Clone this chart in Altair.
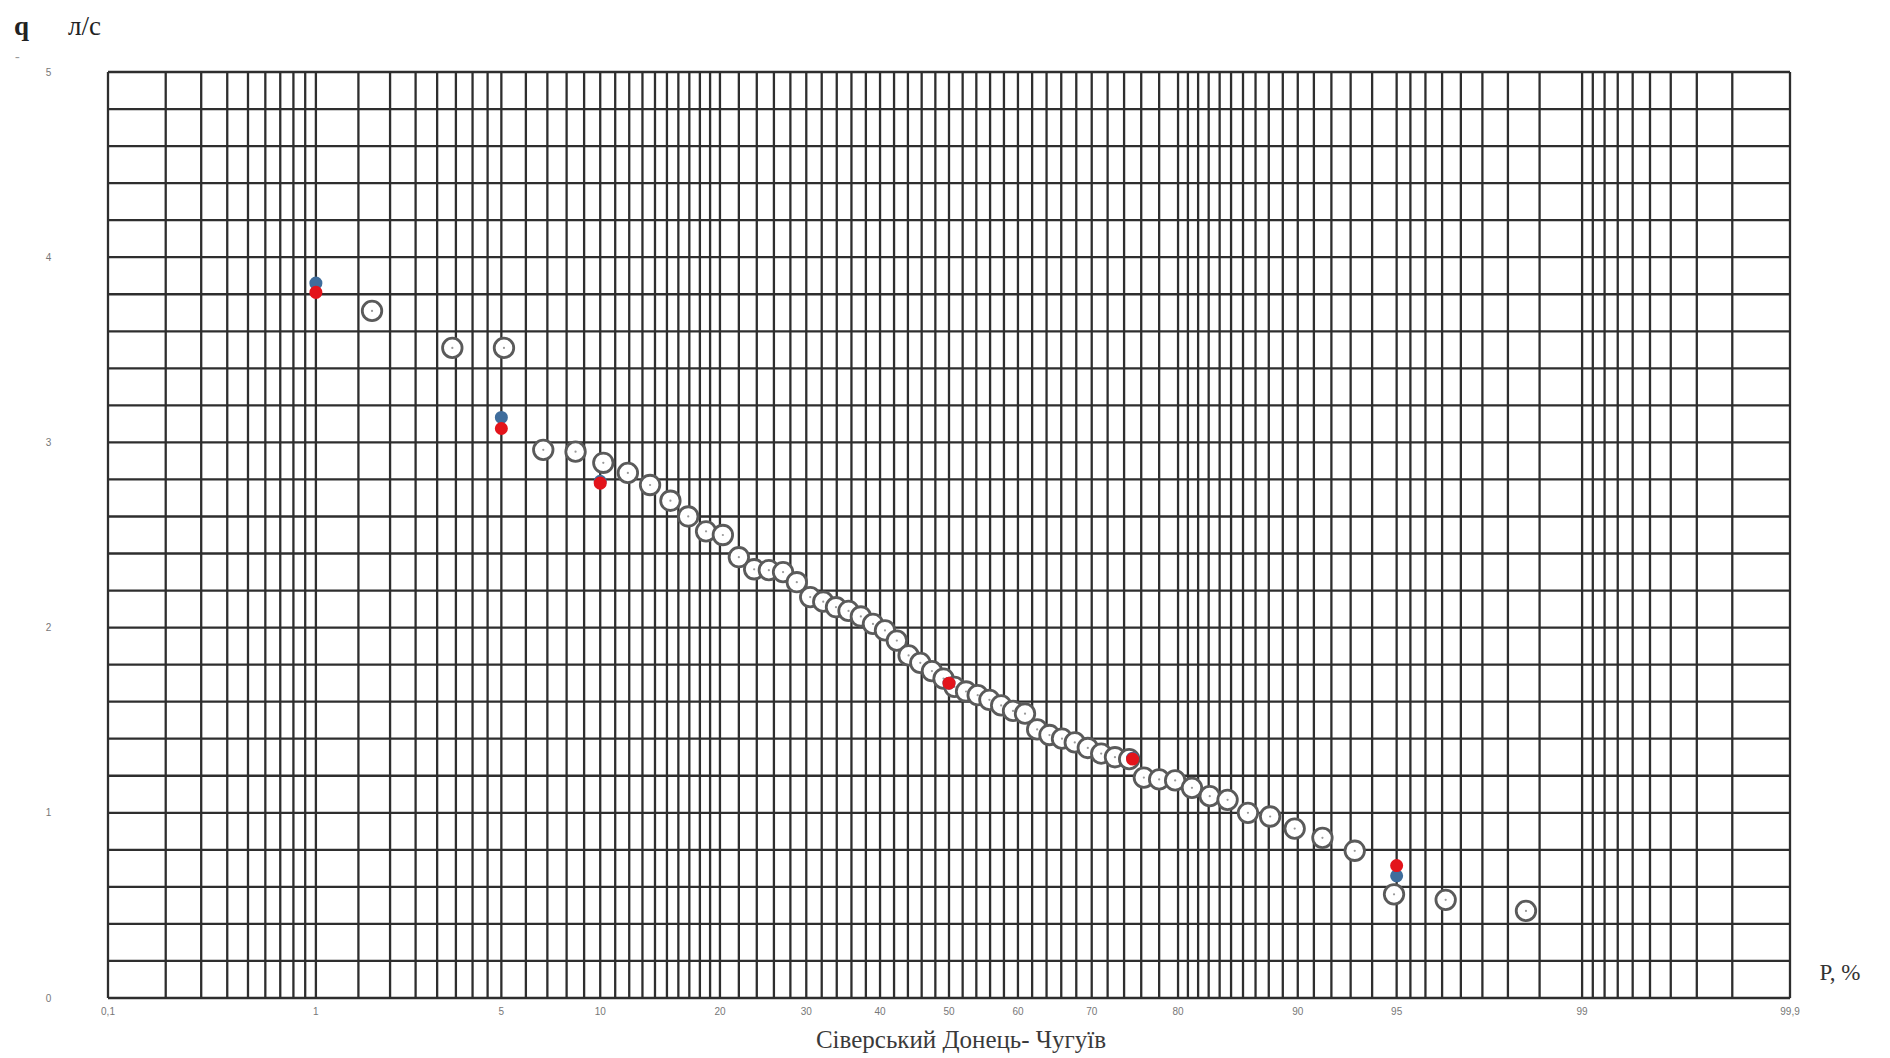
import altair as alt
import pandas as pd
from statistics import NormalDist

_nd = NormalDist()


def probit(p):
    return _nd.inv_cdf(p / 100.0)


# ---- empirical exceedance points (P, %) and discharges (q, l/s) ----
P_emp = [1.7, 3.4, 5.1, 6.8, 8.5, 10.2, 11.9, 13.6, 15.3, 16.9, 18.6, 20.3,
         22.0, 23.7, 25.4, 27.1, 28.8, 30.5, 32.2, 33.9, 35.6, 37.3, 39.0,
         40.7, 42.4, 44.1, 45.8, 47.5, 49.2, 50.8, 52.5, 54.2, 55.9, 57.6,
         59.3, 61.0, 62.7, 64.4, 66.1, 67.8, 69.5, 71.2, 72.9, 74.6, 76.3,
         78.0, 79.7, 81.4, 83.1, 84.7, 86.4, 88.1, 89.8, 91.5, 93.2, 94.9,
         96.6, 98.3]
q_emp = [3.71, 3.51, 3.51, 2.96, 2.95, 2.89, 2.835, 2.77, 2.685, 2.60, 2.52,
         2.50, 2.38, 2.315, 2.31, 2.30, 2.245, 2.165, 2.14, 2.11, 2.09, 2.06,
         2.02, 1.985, 1.93, 1.85, 1.81, 1.765, 1.725, 1.68, 1.655, 1.635,
         1.61, 1.58, 1.55, 1.535, 1.45, 1.42, 1.40, 1.38, 1.35, 1.32, 1.30,
         1.29, 1.19, 1.18, 1.175, 1.135, 1.09, 1.07, 1.00, 0.98, 0.915,
         0.865, 0.795, 0.56, 0.53, 0.47]

# ---- theoretical curves (points at selected probabilities) ----
P_theor = [1, 5, 10, 50, 75, 95]
q_blue = [3.86, 3.135, 2.79, 1.70, 1.295, 0.66]
q_red = [3.81, 3.075, 2.78, 1.70, 1.29, 0.715]

# ---- probability-paper grid and tick labels ----
grid_P = ([round(0.1 * i, 1) for i in range(1, 11)]
          + [round(1 + 0.5 * i, 1) for i in range(1, 9)]
          + list(range(6, 21))
          + list(range(22, 81, 2))
          + list(range(81, 96))
          + [round(95 + 0.5 * i, 1) for i in range(1, 9)]
          + [round(99 + 0.1 * i, 1) for i in range(1, 10)])
tick_P = [0.1, 1, 5, 10, 20, 30, 40, 50, 60, 70, 80, 90, 95, 99, 99.9]
tick_labels = ["0,1", "1", "5", "10", "20", "30", "40", "50", "60", "70",
               "80", "90", "95", "99", "99,9"]
y_grid = [round(0.2 * i, 1) for i in range(26)]
y_ticks = [0, 1, 2, 3, 4, 5]

W, H = 1682, 926
GRID = "#2e2e2e"

emp = pd.DataFrame({"P": P_emp, "q": q_emp, "z": [probit(p) for p in P_emp]})
theo = pd.DataFrame({"P": P_theor, "z": [probit(p) for p in P_theor],
                     "blue": q_blue, "red": q_red})
vgrid_df = pd.DataFrame({"z": [probit(p) for p in grid_P]})
hgrid_df = pd.DataFrame({"q": y_grid})
ticks = pd.DataFrame({"z": [probit(p) for p in tick_P], "label": tick_labels})

xscale = alt.Scale(domain=[probit(0.1), probit(99.9)], nice=False, zero=False)
yscale = alt.Scale(domain=[0, 5], nice=False, zero=True)
yaxis = alt.Axis(
    values=y_ticks, grid=False, domain=False, ticks=False, title=None,
    labelOverlap=False, format="d",
    labelAlign="center", labelPadding=60, labelFontSize=10,
    labelColor="#777", labelFont="Liberation Sans")


def X(f):
    return alt.X(f, type="quantitative", scale=xscale, axis=None)


def Y(f):
    return alt.Y(f, type="quantitative", scale=yscale, axis=yaxis, title=None)


hgrid = alt.Chart(hgrid_df).mark_rule(color=GRID, strokeWidth=2.3).encode(
    y=Y("q"))

vgrid = alt.Chart(vgrid_df).mark_rule(color=GRID, strokeWidth=2.3).encode(
    x=X("z"))

tick_text = alt.Chart(ticks).mark_text(
    fontSize=10, color="#777", font="Liberation Sans", baseline="middle"
).encode(x=X("z"), y=alt.value(H + 14), text="label:N")

circles = alt.Chart(emp).mark_circle(
    fill="white", stroke="#5a5a5a", strokeWidth=2.8, size=380, opacity=1
).encode(x=X("z"), y=Y("q"))

centers = alt.Chart(emp).mark_circle(color="#999", size=5, opacity=1).encode(
    x=X("z"), y=Y("q"))

blue = alt.Chart(theo).mark_circle(color="#3f6d9c", size=170, opacity=1).encode(
    x=X("z"), y=Y("blue"))
red = alt.Chart(theo).mark_circle(color="#e3141b", size=170, opacity=1).encode(
    x=X("z"), y=Y("red"))


def label(text, x, y, size, align="left", color="#222", weight="normal",
          font="Liberation Serif"):
    return alt.Chart(pd.DataFrame({"t": [text]})).mark_text(
        fontSize=size, align=align, baseline="alphabetic", color=color,
        font=font, fontWeight=weight
    ).encode(x=alt.value(x), y=alt.value(y), text="t:N")


texts = [
    label("q", -94, -37, 27, weight="bold"),
    label("л/с", -40, -37, 27),
    label("-", -93, -11, 14, color="#999"),
    label("P, %", W + 50, H - 18, 23, align="center", color="#333"),
    label("Сіверський Донець- Чугуїв", 853, H + 50, 25, align="center",
          color="#3a3a3a"),
]

chart = alt.layer(hgrid, vgrid, tick_text, circles, centers, blue, red,
                  *texts).properties(
    width=W, height=H,
    padding={"left": 100, "top": 64, "right": 80, "bottom": 56},
    autosize=alt.AutoSizeParams(type="none"),
).configure_view(strokeWidth=0).configure(background="white")

chart.save("out.html", embed_options={"renderer": "svg", "actions": False})
